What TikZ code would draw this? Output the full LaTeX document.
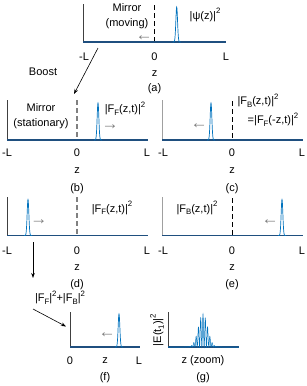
\documentclass[tikz,border=0pt]{standalone}
\usepackage{fontspec}
\setmainfont{Liberation Sans}
\usetikzlibrary{arrows.meta}
\definecolor{mblue}{HTML}{0072BD}
\definecolor{mbase}{HTML}{1F4F7F}
\definecolor{axdark}{HTML}{404040}
\definecolor{axlight}{HTML}{A0A0A0}
\newcommand{\lsub}[1]{\raisebox{-0.5ex}{\fontsize{7.8}{8}\selectfont #1}}
\newcommand{\lsup}[1]{\raisebox{0.95ex}{\fontsize{7.8}{8}\selectfont #1}}
\newcommand{\gpeak}[3]{\draw[peakline] plot[domain=-4:4,samples=61] ({#1+\x},{#2-#3*exp(-(\x/1.2)^2)});}
\begin{document}
\begin{tikzpicture}[x=1pt,y=-1pt,
  every node/.style={font=\fontsize{11}{12}\selectfont, inner sep=0pt},
  txt/.style={},
  dirmark/.style={text=gray, font=\fontsize{17}{18}\selectfont, text height=1pt, text depth=0pt, anchor=base, yshift=-4.5pt},
  yaxdark/.style={draw=axdark, line width=0.8pt},
  yaxlight/.style={draw=axlight, line width=0.8pt},
  baseline/.style={draw=mbase, line width=1.1pt},
  peakline/.style={draw=mblue, line width=0.7pt},
  mirrorblack/.style={draw=black, line width=0.9pt, dash pattern=on 5pt off 3pt},
  mirrorgray/.style={draw=gray, line width=1.1pt, dash pattern=on 5pt off 3pt},
  conn/.style={draw=black, line width=0.6pt, -{Stealth[length=5pt,width=3.6pt]}}]
\useasboundingbox (0,0) rectangle (306,386);

% ---------- panel (a)
\draw[yaxdark] (83,4) -- (83,42);
\draw[mirrorblack] (154.5,5) -- (154.5,42);
\draw[baseline] (83,42) -- (226,42);
\gpeak{176.7}{42}{35}
\node[txt] (mirA) at (127,7.5) {Mirror};
\node[txt] (movA) at (127,24) {(moving)};
\node[dirmark] (arA) at (144,36) {←};
\node[txt] (psiA) at (205,15) {|ψ(z)|\lsup{2}};
\node[txt] (tLa) at (84,57) {-L};
\node[txt] (t0a) at (154.5,57) {0};
\node[txt] (tRa) at (226,57) {L};
\node[txt] (za) at (154.5,74) {z};
\node[txt] (capa) at (154.5,89) {(a)};

% ---------- Boost arrow
\coordinate (bs) at (98,48);
\coordinate (be) at (74,94);
\draw[conn] (bs) -- (be);
\node[txt] (boost) at (43,72) {Boost};

% ---------- panel (b)
\draw[yaxdark] (7,100) -- (7,140);
\draw[mirrorgray] (77,100) -- (77,140);
\draw[baseline] (7,140) -- (148,140);
\gpeak{98}{140}{37}
\node[txt] (mirB) at (41,108) {Mirror};
\node[txt] (staB) at (41,123.5) {(stationary)};
\node[txt] (ffB) at (125,108.5) {|F\lsub{F}(z,t)|\lsup{2}};
\node[dirmark] (arB) at (110,125) {→};
\node[txt] (tLb) at (7,153) {-L};
\node[txt] (t0b) at (77,153) {0};
\node[txt] (tRb) at (147,153) {L};
\node[txt] (zb) at (77,171) {z};
\node[txt] (capb) at (77,189) {(b)};

% ---------- panel (c)
\draw[yaxlight] (162,100) -- (162,140);
\draw[mirrorblack] (232,101) -- (232,140);
\draw[baseline] (162,140) -- (303,140);
\gpeak{211}{140}{37}
\node[txt] (fbC) at (258,100.5) {|F\lsub{B}(z,t)|\lsup{2}};
\node[txt] (eqC) at (273,119.5) {=|F\lsub{F}(-z,t)|\lsup{2}};
\node[dirmark] (arC) at (199,124) {←};
\node[txt] (tLc) at (163,153) {-L};
\node[txt] (t0c) at (232,153) {0};
\node[txt] (tRc) at (302,153) {L};
\node[txt] (zc) at (232,171) {z};
\node[txt] (capc) at (232,189) {(c)};

% ---------- panel (d)
\draw[yaxdark] (7,197) -- (7,235.5);
\draw[mirrorgray] (77,197) -- (77,235.5);
\draw[baseline] (7,235.5) -- (148,235.5);
\gpeak{28}{235.5}{36}
\node[txt] (ffD) at (112,208) {|F\lsub{F}(z,t)|\lsup{2}};
\node[dirmark] (arD) at (39,220) {→};
\node[txt] (tLd) at (7,251) {-L};
\node[txt] (t0d) at (77,251) {0};
\node[txt] (tRd) at (147,251) {L};
\node[txt] (zd) at (77,268) {z};
\node[txt] (capd) at (77,284.5) {(d)};

% ---------- panel (e)
\draw[yaxlight] (162,197) -- (162,235.5);
\draw[mirrorblack] (232,198) -- (232,235.5);
\draw[baseline] (162,235.5) -- (303,235.5);
\gpeak{282}{235.5}{36}
\node[txt] (fbE) at (197,208) {|F\lsub{B}(z,t)|\lsup{2}};
\node[dirmark] (arE) at (270,220) {←};
\node[txt] (tLe) at (163,251) {-L};
\node[txt] (t0e) at (232,251) {0};
\node[txt] (tRe) at (302,251) {L};
\node[txt] (ze) at (232,268) {z};
\node[txt] (cape) at (232,284.5) {(e)};

% ---------- arrows to (f)
\coordinate (ds) at (33,242);
\coordinate (de) at (33,278);
\draw[conn] (ds) -- (de);
\node[txt] (sumlbl) at (60,297.5) {|F\lsub{F}|\lsup{2}+|F\lsub{B}|\lsup{2}};
\coordinate (gs) at (33,309);
\coordinate (ge) at (66,326.5);
\draw[conn] (gs) -- (ge);

% ---------- panel (f)
\draw[yaxdark] (70,312) -- (70,347);
\draw[baseline] (70,347) -- (140,347);
\gpeak{119}{347}{33}
\node[dirmark] (arF) at (107,333) {←};
\node[txt] (t0f) at (70,361) {0};
\node[txt] (zf) at (105,361) {z};
\node[txt] (tRf) at (139,361) {L};
\node[txt] (capf) at (105,378) {(f)};

% ---------- panel (g)
\draw[yaxdark] (168,312) -- (168,347);
\draw[baseline] (168,347) -- (239,347);
\draw[draw=mblue, line width=0.5pt] plot[domain=-35:36, samples=800]
  ({203+\x},{347-33*exp(-(\x/6.5)^2)*(cos(\x*78))^2});
\node[txt, rotate=90] (ylg) at (157,330) {|E(t\lsub{1})|\lsup{2}};
\node[txt] (zg) at (203,361) {z (zoom)};
\node[txt] (capg) at (203,378) {(g)};
\end{tikzpicture}
\end{document}
